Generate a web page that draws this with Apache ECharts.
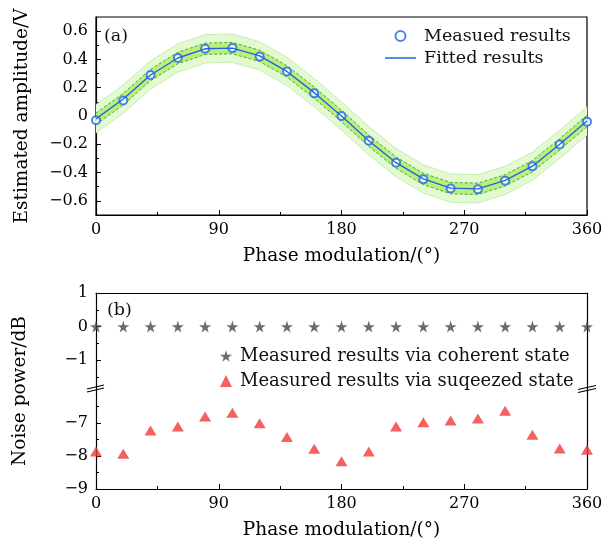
<!DOCTYPE html>
<html><head><meta charset="utf-8">
<script src="https://cdn.jsdelivr.net/npm/echarts@6/dist/echarts.min.js"></script>
<style>html,body{margin:0;padding:0;background:#fff}#c{width:615px;height:544px}</style>
</head><body><div id="c"></div>
<script>
// ---------- data ----------
const phases = [0,20,40,60,80,100,120,140,160,180,200,220,240,260,280,300,320,340,360];
const measuredAmp = [-0.03,0.11,0.29,0.41,0.475,0.48,0.42,0.315,0.16,0.0,-0.175,-0.33,-0.448,-0.512,-0.518,-0.457,-0.356,-0.202,-0.04];
const fittedAmp   = [-0.02,0.12,0.29,0.41,0.475,0.48,0.425,0.315,0.165,0.0,-0.175,-0.33,-0.445,-0.51,-0.515,-0.455,-0.355,-0.2,-0.035];
const outerBandHalf = 0.1;
const innerBandHalf = 0.04;
const coherentNoise = [0,0,0,0,0,0,0,0,0,0,0,0,0,0,0,0,0,0,0];
const squeezedNoise = [-7.86,-7.93,-7.22,-7.10,-6.80,-6.68,-7.00,-7.42,-7.78,-8.16,-7.86,-7.10,-6.97,-6.92,-6.86,-6.62,-7.35,-7.77,-7.81];
const ampTicks = [-0.6,-0.4,-0.2,0,0.2,0.4,0.6];
const ampMinorTicks = [-0.5,-0.3,-0.1,0.1,0.3,0.5];
const noiseUpperTicks = [-1,0,1];
const noiseUpperMinor = [-1.5,-0.5,0.5];
const noiseLowerTicks = [-9,-8,-7];
const noiseLowerMinor = [-8.5,-7.5,-6.5];

// ---------- style ----------
const FONT = 'DejaVu Serif';
const BLUE = '#1f66e5';
const minus = v => String(v).replace('-', '\u2212');
const STAR = 'path://M50,0 L61,35 L98,35 L68,57 L79,91 L50,70 L21,91 L32,57 L2,35 L39,35 Z';

function xValueAxis(grid, showName) {
  return {
    type: 'value', gridIndex: grid, min: 0, max: 360, interval: 90, position: 'bottom',
    axisLine: { show: true, onZero: false, lineStyle: { color: '#000', width: 1.2 } },
    axisTick: { show: true, inside: true, length: 5, lineStyle: { color: '#000' } },
    minorTick: { show: true, splitNumber: 2, length: 3, lineStyle: { color: '#000' } },
    axisLabel: { show: true, color: '#000', fontFamily: FONT, fontSize: 16, margin: 7 },
    splitLine: { show: false },
    name: showName ? 'Phase modulation/(\u00b0)' : '', nameLocation: 'middle', nameGap: 32,
    nameTextStyle: { color: '#000', fontFamily: FONT, fontSize: 18.5 }
  };
}
function yMajor(grid, min, max, ticks, name) {
  return {
    type: 'value', gridIndex: grid, min: min, max: max, position: 'left',
    axisLine: { show: true, onZero: false, lineStyle: { color: '#000', width: 1.2 } },
    axisTick: { show: true, inside: true, length: 5, customValues: ticks, lineStyle: { color: '#000' } },
    axisLabel: { show: true, customValues: ticks, formatter: minus, color: '#000', fontFamily: FONT, fontSize: 16, margin: 8 },
    splitLine: { show: false },
    name: name || '', nameLocation: 'middle', nameGap: 64,
    nameTextStyle: { color: '#000', fontFamily: FONT, fontSize: 18.5 }
  };
}
function yMinor(grid, min, max, ticks) {
  return {
    type: 'value', gridIndex: grid, min: min, max: max, position: 'left',
    axisLine: { show: false, onZero: false },
    axisTick: { show: true, inside: true, length: 3, customValues: ticks, lineStyle: { color: '#000' } },
    axisLabel: { show: false }, splitLine: { show: false }
  };
}
function yRightLine(grid, min, max) {
  return {
    type: 'value', gridIndex: grid, min: min, max: max, position: 'right',
    axisLine: { show: true, onZero: false, lineStyle: { color: '#000', width: 1.2 } },
    axisTick: { show: false }, axisLabel: { show: false }, splitLine: { show: false }
  };
}

const pairs = (xs, ys) => xs.map((x, i) => [x, ys[i]]);
const outerLow = fittedAmp.map(v => v - outerBandHalf);
const outerSpan = fittedAmp.map(() => 2 * outerBandHalf);
const innerLow = fittedAmp.map(v => v - innerBandHalf);
const innerSpan = fittedAmp.map(() => 2 * innerBandHalf);

const chart = echarts.init(document.getElementById('c'), null, { renderer: 'canvas' });
chart.setOption({
  animation: false,
  backgroundColor: '#fff',
  textStyle: { fontFamily: FONT },
  grid: [
    { left: 96, top: 17, width: 491, height: 198, show: true, borderColor: '#000', borderWidth: 1.2, backgroundColor: 'transparent' },
    { left: 96, top: 293, width: 491, height: 94 },
    { left: 96, top: 387, width: 491, height: 102 }
  ],
  xAxis: [
    xValueAxis(0, true),
    { type: 'category', gridIndex: 0, data: phases.map(String), boundaryGap: false, show: false },
    { type: 'value', gridIndex: 1, min: 0, max: 360, position: 'top',
      axisLine: { show: true, onZero: false, lineStyle: { color: '#000', width: 1.2 } },
      axisTick: { show: false }, axisLabel: { show: false }, splitLine: { show: false } },
    xValueAxis(2, true)
  ],
  yAxis: [
    yMajor(0, -0.7, 0.7, ampTicks, 'Estimated amplitude/V'),
    yMinor(0, -0.7, 0.7, ampMinorTicks),
    yMajor(1, -1.8, 1, noiseUpperTicks),
    yMinor(1, -1.8, 1, noiseUpperMinor),
    yRightLine(1, -1.8, 1),
    yMajor(2, -9, -5.9, noiseLowerTicks),
    yMinor(2, -9, -5.9, noiseLowerMinor),
    yRightLine(2, -9, -5.9)
  ],
  legend: [
    { orient: 'vertical', left: 385, top: 27, padding: 0, itemWidth: 31, itemHeight: 10, itemGap: 4,
      selectedMode: false, symbolKeepAspect: true,
      textStyle: { fontFamily: FONT, fontSize: 17.5, color: '#111', lineHeight: 18, padding: [0, 0, 0, 3] },
      data: [
        { name: 'Measued results', icon: 'emptyCircle' },
        { name: 'Fitted results', icon: 'path://M0,0L31,0L31,1.5L0,1.5Z' }
      ] },
    { orient: 'vertical', left: 220, top: 347, padding: 0, itemWidth: 12, itemHeight: 12, itemGap: 7,
      selectedMode: false, symbolKeepAspect: true,
      textStyle: { fontFamily: FONT, fontSize: 18, color: '#111', lineHeight: 18, padding: [0, 0, 0, 3] },
      data: [
        { name: 'Measured results via coherent state', icon: STAR },
        { name: 'Measured results via suqeezed state', icon: 'triangle' }
      ] }
  ],
  graphic: [
    { type: 'text', left: 104, top: 27, style: { text: '(a)', font: '17.5px "DejaVu Serif"', fill: '#111' } },
    { type: 'text', left: 107, top: 301, style: { text: '(b)', font: '17.5px "DejaVu Serif"', fill: '#111' } },
    { type: 'text', x: 20, y: 391, rotation: Math.PI / 2,
      style: { text: 'Noise power/dB', font: '18.5px "DejaVu Serif"', fill: '#000', align: 'center', verticalAlign: 'middle' } },
    { type: 'line', shape: { x1: 87, y1: 389, x2: 104, y2: 385 }, style: { stroke: '#000', lineWidth: 1.2 } },
    { type: 'line', shape: { x1: 87, y1: 392, x2: 104, y2: 388 }, style: { stroke: '#000', lineWidth: 1.2 } },
    { type: 'line', shape: { x1: 578, y1: 389.5, x2: 596, y2: 385.5 }, style: { stroke: '#000', lineWidth: 1.2 } },
    { type: 'line', shape: { x1: 578, y1: 392.5, x2: 596, y2: 388.5 }, style: { stroke: '#000', lineWidth: 1.2 } }
  ],
  series: [
    { name: 'outerLow', type: 'line', xAxisIndex: 1, yAxisIndex: 0, data: outerLow, stack: 'outer', stackStrategy: 'all',
      symbol: 'none', silent: true, z: 1, lineStyle: { color: '#c6efb0', width: 1 } },
    { name: 'outerSpan', type: 'line', xAxisIndex: 1, yAxisIndex: 0, data: outerSpan, stack: 'outer', stackStrategy: 'all',
      symbol: 'none', silent: true, z: 1, lineStyle: { color: '#c6efb0', width: 1 }, areaStyle: { color: '#e3f9d0', opacity: 1 } },
    { name: 'innerLow', type: 'line', xAxisIndex: 1, yAxisIndex: 0, data: innerLow, stack: 'inner', stackStrategy: 'all',
      symbol: 'none', silent: true, z: 2, lineStyle: { color: '#3fae3f', width: 1, type: [3, 2] } },
    { name: 'innerSpan', type: 'line', xAxisIndex: 1, yAxisIndex: 0, data: innerSpan, stack: 'inner', stackStrategy: 'all',
      symbol: 'none', silent: true, z: 2, lineStyle: { color: '#3fae3f', width: 1, type: [3, 2] }, areaStyle: { color: '#bdef78', opacity: 1 } },
    { name: 'Measued results', type: 'scatter', xAxisIndex: 0, yAxisIndex: 0, data: pairs(phases, measuredAmp),
      symbol: 'emptyCircle', symbolSize: 8, z: 3, itemStyle: { color: BLUE, borderWidth: 1.4 } },
    { name: 'Fitted results', type: 'line', xAxisIndex: 0, yAxisIndex: 0, data: pairs(phases, fittedAmp),
      symbol: 'none', z: 4, color: BLUE, itemStyle: { color: BLUE }, lineStyle: { color: BLUE, width: 1.4 } },
    { name: 'Measured results via coherent state', type: 'scatter', xAxisIndex: 2, yAxisIndex: 2, data: pairs(phases, coherentNoise),
      symbol: STAR, symbolSize: 12, itemStyle: { color: '#474747' } },
    { name: 'Measured results via suqeezed state', type: 'scatter', xAxisIndex: 3, yAxisIndex: 5, data: pairs(phases, squeezedNoise),
      symbol: 'triangle', symbolSize: [12, 10], itemStyle: { color: '#f03a3a' } }
  ]
});
</script>
</body></html>
